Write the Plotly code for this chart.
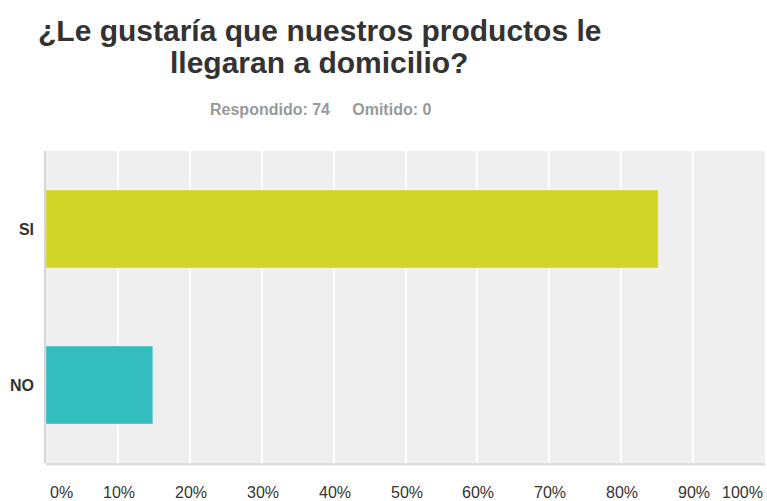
import plotly.graph_objects as go

categories = ["SI", "NO"]
values = [85.14, 14.86]
bar_colors = ["#D0D427", "#33BDBE"]
tick_vals = [0, 10, 20, 30, 40, 50, 60, 70, 80, 90, 100]
tick_text = ["0%", "10%", "20%", "30%", "40%", "50%", "60%", "70%", "80%", "90%", "100%"]
title_lines = ["¿Le gustaría que nuestros productos le", "llegaran a domicilio?"]
subtitle_text = "Respondido: 74&nbsp;&nbsp;&nbsp;&nbsp;&nbsp;Omitido: 0"

FONT = "Liberation Sans, Arial, sans-serif"
PLOT_TOP, PLOT_BOTTOM, PLOT_LEFT, PLOT_RIGHT = 151, 463, 46, 765


def py(p):
    return (PLOT_BOTTOM - p) / (PLOT_BOTTOM - PLOT_TOP)


def px(p):
    return (p - PLOT_LEFT) / (PLOT_RIGHT - PLOT_LEFT)


fig = go.Figure()
fig.add_trace(go.Bar(
    y=categories, x=values, orientation="h",
    marker=dict(color=bar_colors, line=dict(color="rgba(255,255,255,0.35)", width=1)),
    hoverinfo="skip",
))

fig.update_layout(
    width=767, height=501,
    margin=dict(l=PLOT_LEFT, r=767 - PLOT_RIGHT, t=PLOT_TOP, b=501 - PLOT_BOTTOM),
    paper_bgcolor="white",
    plot_bgcolor="#EFEFEF",
    showlegend=False,
    bargap=0.5,
    font=dict(family=FONT, color="#333333"),
)
fig.update_xaxes(
    range=[0, 100], tickvals=tick_vals, showticklabels=False,
    showgrid=True, gridcolor="white", gridwidth=1.5,
    zeroline=False, showline=False, fixedrange=True,
)
fig.update_yaxes(
    autorange="reversed",
    tickfont=dict(family=FONT, size=16, color="#333333", weight="bold"),
    ticks="outside", ticklen=7, tickcolor="rgba(0,0,0,0)",
    showgrid=False, zeroline=False,
    showline=True, linecolor="#D6D6D6", linewidth=1.5,
)
# bottom axis line
fig.add_shape(type="line", xref="paper", yref="paper", x0=0, x1=1, y0=-0.004, y1=-0.004,
              line=dict(color="#DDDDDD", width=2.5))

# x tick labels
for v, t in zip(tick_vals, tick_text):
    if v == 0:
        xa, xs = "left", 2
    elif v == 100:
        xa, xs = "right", 0
    else:
        xa, xs = "center", 1
    fig.add_annotation(x=v, y=0, xref="x", yref="paper", text=t, showarrow=False,
                       xanchor=xa, xshift=xs, yanchor="middle", yshift=-29,
                       font=dict(family=FONT, size=16, color="#333333"))

# title (two lines)
for line, cy in zip(title_lines, [30, 63]):
    fig.add_annotation(x=px(319), y=py(cy), xref="paper", yref="paper",
                       text=line, showarrow=False, xanchor="center", yanchor="middle",
                       font=dict(family=FONT, size=30, color="#333333", weight="bold"))
fig.add_annotation(x=px(320), y=py(109), xref="paper", yref="paper",
                   text=subtitle_text, showarrow=False, xanchor="center", yanchor="middle",
                   font=dict(family=FONT, size=16, color="#999999", weight="bold"))

fig.write_html("out.html")
